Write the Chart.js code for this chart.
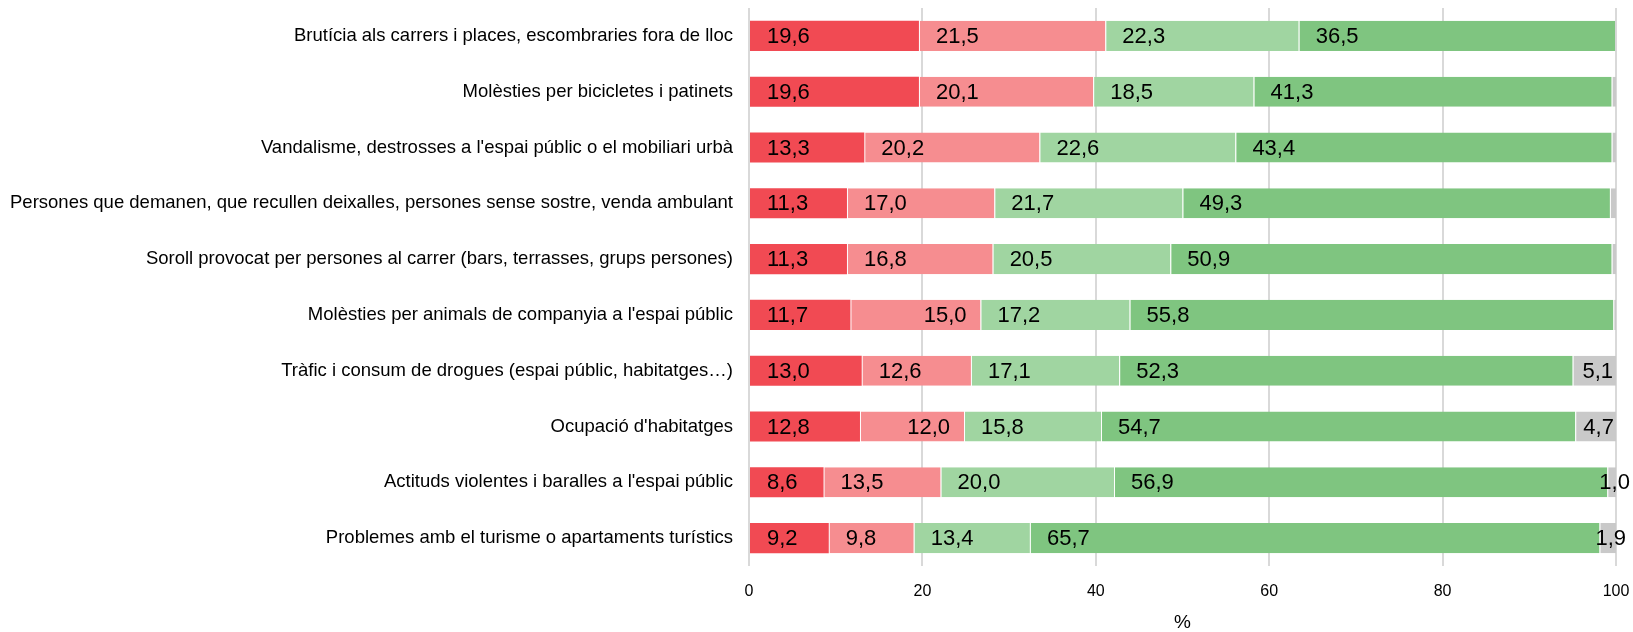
<!DOCTYPE html>
<html lang="ca">
<head>
<meta charset="utf-8">
<title>Problemes a l'espai públic</title>
<script src="https://cdn.jsdelivr.net/npm/chart.js@4"></script>
<style>
  html, body { margin: 0; padding: 0; background: #fff; }
  #wrap { width: 1633px; height: 632px; position: relative; }
</style>
</head>
<body>
<div id="wrap"><canvas id="problemsChart"></canvas></div>
<script>
/* ── Data ── */
const categories = [
  'Brutícia als carrers i places, escombraries fora de lloc',
  'Molèsties per bicicletes i patinets',
  "Vandalisme, destrosses a l'espai públic o el mobiliari urbà",
  'Persones que demanen, que recullen deixalles, persones sense sostre, venda ambulant',
  'Soroll provocat per persones al carrer (bars, terrasses, grups persones)',
  "Molèsties per animals de companyia a l'espai públic",
  'Tràfic i consum de drogues (espai públic, habitatges…)',
  "Ocupació d'habitatges",
  "Actituds violentes i baralles a l'espai públic",
  'Problemes amb el turisme o apartaments turístics'
];

const redValues        = [19.6, 19.6, 13.3, 11.3, 11.3, 11.7, 13.0, 12.8, 8.6, 9.2];
const lightRedValues   = [21.5, 20.1, 20.2, 17.0, 16.8, 15.0, 12.6, 12.0, 13.5, 9.8];
const lightGreenValues = [22.3, 18.5, 22.6, 21.7, 20.5, 17.2, 17.1, 15.8, 20.0, 13.4];
const greenValues      = [36.5, 41.3, 43.4, 49.3, 50.9, 55.8, 52.3, 54.7, 56.9, 65.7];
const greyValues       = [0.1, 0.5, 0.5, 0.7, 0.5, 0.3, 5.1, 4.7, 1.0, 1.9];

const xTicks = [0, 20, 40, 60, 80, 100];

const FONT = '"Liberation Sans", Arial, Helvetica, sans-serif';

/* ── Value labels inside the segments ── */
// labels pushed to the end of their segment instead of the start
const labelAtEnd = [[1, 5], [1, 7]];

const valueLabels = {
  id: 'valueLabels',
  afterDatasetsDraw(chart) {
    const { ctx } = chart;
    ctx.save();
    ctx.font = '22px ' + FONT;
    ctx.fillStyle = '#000';
    ctx.textBaseline = 'middle';
    chart.data.datasets.forEach((ds, di) => {
      const meta = chart.getDatasetMeta(di);
      meta.data.forEach((bar, i) => {
        const v = ds.data[i];
        if (v < 1) return;
        const txt = v.toFixed(1).replace('.', ',');
        const { x, y, base } = bar.getProps(['x', 'y', 'base'], true);
        if (di === 4) {
          ctx.textAlign = 'center';
          ctx.fillText(txt, (base + x) / 2 + 3, y + 1);
        } else if (labelAtEnd.some(([d, r]) => d === di && r === i)) {
          ctx.textAlign = 'right';
          ctx.fillText(txt, x - 14, y + 1);
        } else {
          ctx.textAlign = 'left';
          ctx.fillText(txt, base + 17, y + 1);
        }
      });
    });
    ctx.restore();
  }
};

/* ── Chart ── */
const seriesColors = ['#F14A53', '#F68D90', '#A0D5A1', '#7FC580', '#C9C9C9'];
const seriesValues = [redValues, lightRedValues, lightGreenValues, greenValues, greyValues];

new Chart(document.getElementById('problemsChart'), {
  type: 'bar',
  data: {
    labels: categories,
    datasets: seriesValues.map((vals, k) => ({
      data: vals,
      backgroundColor: seriesColors[k],
      borderColor: 'rgba(255,255,255,0.55)',
      borderWidth: k === 0 ? 0 : { left: 1, right: 0, top: 0, bottom: 0 },
      borderSkipped: false,
      categoryPercentage: 1,
      barPercentage: 0.54
    }))
  },
  options: {
    indexAxis: 'y',
    responsive: true,
    maintainAspectRatio: false,
    animation: false,
    layout: { padding: { top: 8, right: 17, left: 0, bottom: 0 } },
    plugins: {
      legend: { display: false },
      tooltip: { enabled: false }
    },
    scales: {
      x: {
        stacked: true,
        min: 0,
        max: 100,
        afterBuildTicks: axis => { axis.ticks = xTicks.map(v => ({ value: v })); },
        afterFit: axis => {
          axis.height = 66;
          axis.paddingLeft = 0;
          axis.paddingRight = 0;
        },
        grid: { color: '#D9D9D9', lineWidth: 2, drawTicks: false },
        border: { display: false },
        ticks: { color: '#000', padding: 16, font: { family: FONT, size: 16 } },
        title: {
          display: true,
          text: '%',
          color: '#000',
          padding: { top: 0, bottom: 0 },
          font: { family: FONT, size: 19, lineHeight: 1 }
        }
      },
      y: {
        stacked: true,
        afterFit: axis => {
          axis.width = 749;
          axis.paddingTop = 0;
          axis.paddingBottom = 0;
        },
        grid: { display: false, drawTicks: false },
        border: { display: false },
        ticks: { color: '#000', padding: 16, autoSkip: false, font: { family: FONT, size: 18.5 } }
      }
    }
  },
  plugins: [valueLabels]
});
</script>
</body>
</html>
